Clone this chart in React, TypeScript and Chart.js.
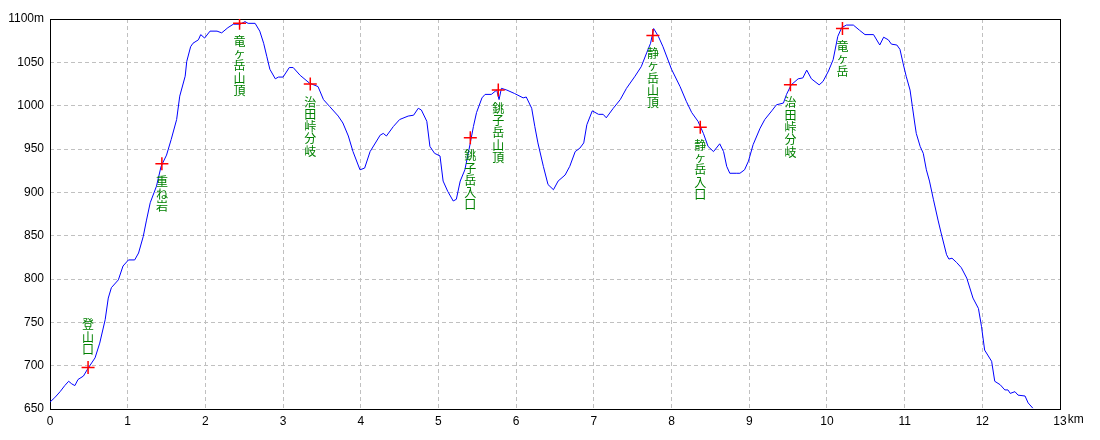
import React, { useEffect, useRef } from "react";
import { Chart, registerables } from "chart.js";

Chart.register(...registerables);

// Profile: distance (km) and elevation (m)
const distKm = [
  0.0, 0.06, 0.13, 0.19, 0.24, 0.28, 0.32, 0.36, 0.43, 0.49, 0.58, 0.64, 0.71, 0.75, 0.79, 0.88, 0.94, 1.01, 1.09, 1.14,
  1.2, 1.24, 1.29, 1.37, 1.43, 1.5, 1.56, 1.63, 1.67, 1.74, 1.76, 1.81, 1.84, 1.91, 1.94, 1.99, 2.06, 2.15, 2.21, 2.29,
  2.36, 2.45, 2.51, 2.55, 2.64, 2.7, 2.75, 2.79, 2.83, 2.9, 2.94, 3.0, 3.08, 3.13, 3.22, 3.34, 3.45, 3.52, 3.6, 3.71,
  3.77, 3.84, 3.9, 3.99, 4.05, 4.12, 4.25, 4.29, 4.33, 4.42, 4.5, 4.61, 4.68, 4.74, 4.78, 4.85, 4.89, 4.95, 5.02, 5.06,
  5.12, 5.19, 5.23, 5.28, 5.34, 5.41, 5.45, 5.49, 5.56, 5.6, 5.68, 5.75, 5.78, 5.81, 5.88, 5.98, 6.09, 6.13, 6.2, 6.24,
  6.28, 6.35, 6.41, 6.48, 6.54, 6.63, 6.69, 6.76, 6.82, 6.87, 6.91, 6.98, 7.06, 7.12, 7.16, 7.25, 7.34, 7.42, 7.53, 7.61,
  7.68, 7.73, 7.77, 7.83, 7.89, 8.0, 8.11, 8.19, 8.26, 8.34, 8.41, 8.47, 8.54, 8.62, 8.67, 8.71, 8.75, 8.84, 8.88, 8.94,
  8.99, 9.05, 9.14, 9.2, 9.29, 9.35, 9.44, 9.48, 9.54, 9.63, 9.69, 9.74, 9.8, 9.9, 9.95, 10.02, 10.08, 10.14, 10.19, 10.25,
  10.34, 10.42, 10.49, 10.6, 10.68, 10.73, 10.79, 10.83, 10.9, 10.94, 10.98, 11.02, 11.07, 11.1, 11.13, 11.15, 11.2, 11.24, 11.28, 11.32,
  11.37, 11.43, 11.47, 11.54, 11.57, 11.61, 11.67, 11.73, 11.8, 11.88, 11.95, 11.99, 12.03, 12.12, 12.16, 12.23, 12.29, 12.33, 12.36, 12.42,
  12.46, 12.55, 12.59, 12.65,
];
const elevM = [
  658, 663, 670, 677, 682, 679, 677, 684, 688, 697, 709, 726, 753, 778, 790, 799, 815, 822, 822, 830,
  849, 867, 888, 907, 930, 943, 961, 984, 1011, 1034, 1051, 1068, 1072, 1076, 1082, 1078, 1086, 1086, 1084, 1090,
  1094, 1094, 1097, 1095, 1095, 1086, 1072, 1057, 1042, 1031, 1033, 1033, 1044, 1044, 1035, 1026, 1022, 1007, 999, 988,
  980, 965, 947, 926, 928, 947, 966, 968, 965, 976, 984, 988, 989, 997, 995, 982, 953, 945, 942, 913,
  901, 890, 892, 913, 926, 957, 976, 992, 1009, 1013, 1013, 1018, 1007, 1020, 1018, 1014, 1009, 1010, 997, 976,
  957, 930, 909, 903, 913, 920, 930, 947, 951, 957, 978, 994, 990, 990, 986, 997, 1007, 1020, 1034, 1045,
  1061, 1072, 1089, 1080, 1068, 1042, 1022, 1005, 992, 982, 968, 953, 947, 956, 947, 930, 922, 922, 922, 926,
  936, 955, 974, 984, 994, 1001, 1003, 1013, 1024, 1031, 1032, 1041, 1031, 1024, 1028, 1040, 1053, 1080, 1090, 1093,
  1093, 1087, 1082, 1082, 1070, 1079, 1076, 1071, 1070, 1065, 1049, 1034, 1018, 999, 980, 968, 953, 945, 926, 913,
  892, 868, 853, 828, 823, 824, 819, 813, 801, 778, 766, 745, 718, 705, 682, 678, 672, 672, 668, 670,
  666, 665, 657, 651,
];

// Waypoints
const markerNames = [
  "登山口", "重ね岩", "竜ヶ岳山頂", "治田峠分岐", "銚子岳入口",
  "銚子岳山頂", "静ヶ岳山頂", "静ヶ岳入口", "治田峠分岐", "竜ヶ岳",
];
const markerKm = [0.49, 1.44, 2.44, 3.35, 5.41, 5.77, 7.76, 8.37, 9.53, 10.2];
const markerM = [698, 933, 1095, 1025, 963, 1018, 1081, 975, 1024, 1089];

// Axes
const xMin = 0;
const xMax = 13;
const xStep = 1;
const yMin = 650;
const yMax = 1100;
const yStep = 50;
const xUnit = "km";
const yUnit = "m";

const TICK_FONT = '"Liberation Sans Narrow", "Liberation Sans", Arial, sans-serif';
const LABEL_FONT = '"Noto Sans CJK JP", sans-serif';

const framePlugin = {
  id: "frame",
  beforeDatasetsDraw(chart: any) {
    const { ctx, chartArea } = chart;
    ctx.save();
    ctx.strokeStyle = "#000000";
    ctx.lineWidth = 1;
    ctx.strokeRect(
      Math.round(chartArea.left) + 0.5,
      Math.round(chartArea.top) + 0.5,
      Math.round(chartArea.right - chartArea.left),
      Math.round(chartArea.bottom - chartArea.top)
    );
    ctx.restore();
  },
};

const unitPlugin = {
  id: "unit",
  afterDraw(chart: any) {
    const { ctx } = chart;
    const xs = chart.scales.x;
    ctx.save();
    ctx.font = `12px ${TICK_FONT}`;
    ctx.fillStyle = "#000000";
    ctx.textAlign = "left";
    ctx.textBaseline = "top";
    const last = String(xMax);
    const w = ctx.measureText(last).width;
    const px = xs.getPixelForValue(xMax);
    ctx.fillText(xUnit, px + w / 2 + 1, xs.top + 5);
    ctx.restore();
  },
};

const labelPlugin = {
  id: "wayLabels",
  afterDatasetsDraw(chart: any) {
    const { ctx, chartArea } = chart;
    const meta = chart.getDatasetMeta(1);
    ctx.save();
    ctx.font = `12px ${LABEL_FONT}`;
    ctx.fillStyle = "#008000";
    ctx.textAlign = "center";
    ctx.textBaseline = "middle";
    const step = 12.3;
    const off = 18;
    meta.data.forEach((pt: any, i: number) => {
      const chars = Array.from(markerNames[i]);
      let y0 = pt.y + off;
      if (y0 + (chars.length - 1) * step + 6 > chartArea.bottom) {
        y0 = pt.y - off - (chars.length - 1) * step;
      }
      chars.forEach((c, j) => ctx.fillText(c, pt.x, y0 + j * step));
    });
    ctx.restore();
  },
};

export default function App() {
  const ref = useRef<HTMLCanvasElement | null>(null);

  useEffect(() => {
    if (!ref.current) return;
    const profile = distKm.map((x, i) => ({ x, y: elevM[i] }));
    const marks = markerKm.map((x, i) => ({ x, y: markerM[i] }));
    const gridCfg = {
      color: "#c0c0c0",
      lineWidth: 1,
      drawTicks: false,
      tickLength: 0,
    };
    const chart = new Chart(ref.current, {
      type: "line",
      data: {
        datasets: [
          {
            data: profile,
            borderColor: "#0000ff",
            borderWidth: 1,
            pointRadius: 0,
            tension: 0,
            fill: false,
            order: 2,
          },
          {
            type: "scatter",
            data: marks,
            pointStyle: "cross",
            pointRadius: 6.5,
            borderColor: "#ff0000",
            backgroundColor: "#ff0000",
            borderWidth: 1.5,
            showLine: false,
            order: 1,
          } as any,
        ],
      },
      options: {
        responsive: false,
        animation: false,
        devicePixelRatio: 1,
        layout: { padding: { top: 19, right: 40, left: 0, bottom: 0 } },
        plugins: {
          legend: { display: false },
          tooltip: { enabled: false },
          title: { display: false },
        },
        scales: {
          x: {
            type: "linear",
            min: xMin,
            max: xMax,
            ticks: {
              stepSize: xStep,
              padding: 5,
              color: "#000000",
              font: { family: TICK_FONT, size: 12 },
              maxRotation: 0,
              autoSkip: false,
            },
            grid: gridCfg as any,
            border: { display: false, dash: [4, 3] },
            afterFit: (s: any) => {
              s.height = 31;
            },
          },
          y: {
            type: "linear",
            min: yMin,
            max: yMax,
            ticks: {
              stepSize: yStep,
              padding: 6,
              color: "#000000",
              font: { family: TICK_FONT, size: 12 },
              callback: (v: any) => (Number(v) === yMax ? `${v}${yUnit}` : `${v}`),
            },
            grid: gridCfg as any,
            border: { display: false, dash: [4, 3] },
            afterFit: (s: any) => {
              s.width = 50;
            },
          },
        },
      },
      plugins: [framePlugin, labelPlugin, unitPlugin],
    });
    return () => chart.destroy();
  }, []);

  return (
    <div
      style={{
        position: "fixed",
        left: 0,
        top: 0,
        width: 1100,
        height: 440,
        background: "#ffffff",
      }}
    >
      <canvas ref={ref} width={1100} height={440} style={{ width: 1100, height: 440 }} />
    </div>
  );
}
